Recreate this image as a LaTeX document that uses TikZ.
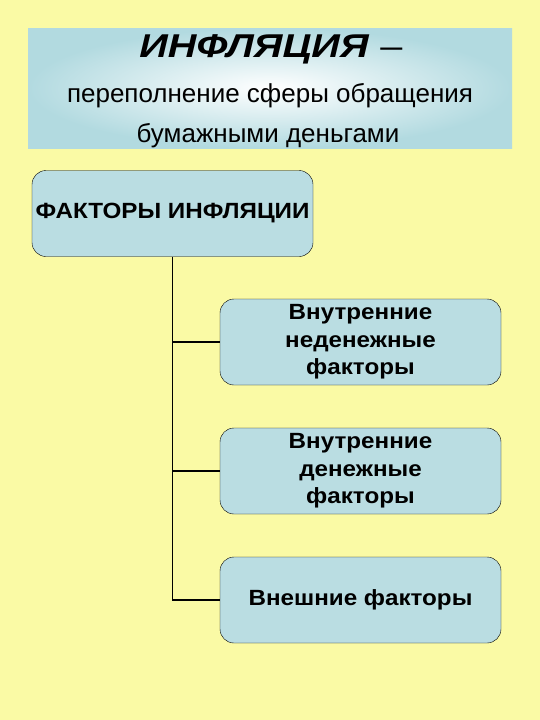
\documentclass[tikz,border=0pt]{standalone}
\usepackage{fontspec}
\setmainfont{Liberation Sans}
\newfontfamily\widesans[FakeStretch=1.1]{Liberation Sans}
\newfontfamily\titlesans[FakeStretch=1.2]{Liberation Sans}
\usepackage{tikz}
\usetikzlibrary{positioning}
\definecolor{paper}{RGB}{250,250,165}
\definecolor{boxblue}{RGB}{186,221,226}
\definecolor{bannerblue}{RGB}{178,218,224}

\begin{document}
\begin{tikzpicture}[x=1pt,y=-1pt,
  factorbox/.style={draw=black,fill=boxblue,rounded corners=14pt,minimum width=281pt,
    minimum height=86pt,align=center,font=\widesans\bfseries\fontsize{22}{27.5}\selectfont},
  link/.style={line width=1.8pt}]
\fill[paper] (0,0) rectangle (540,720);
\useasboundingbox (0,0) rectangle (540,720);
\shade[inner color=white,outer color=bannerblue] (28,28) rectangle (512,148);
\node[anchor=base,font=\titlesans\bfseries\itshape\fontsize{33}{38}\selectfont] (title) at (271,57) {ИНФЛЯЦИЯ \textmd{\textup{–}}};
\node[anchor=base,font=\fontsize{26}{30}\selectfont] (defline) at (270,102) {переполнение сферы обращения};
\node[anchor=base,font=\fontsize{26}{30}\selectfont] (defline2) at (268,142) {бумажными деньгами};
\node[factorbox] (factors) at (172.5,213.5) {ФАКТОРЫ ИНФЛЯЦИИ};
\node[factorbox] (inner1) at (360.5,342) {Внутренние\\неденежные\\факторы};
\node[factorbox] (inner2) at (360.5,471) {Внутренние\\денежные\\факторы};
\node[factorbox] (outer) at (360.5,600) {Внешние факторы};
\draw[link] (factors.south) |- (outer.west);
\draw[link] (factors.south |- inner1.west) -- (inner1.west);
\draw[link] (factors.south |- inner2.west) -- (inner2.west);
\end{tikzpicture}
\end{document}
